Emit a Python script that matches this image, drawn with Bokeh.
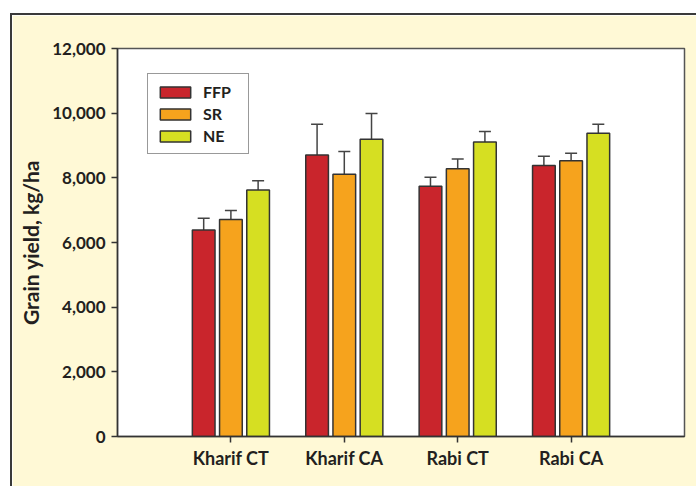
from bokeh.plotting import figure
from bokeh.models import (ColumnDataSource, FactorRange, Range1d, Whisker, TeeHead,
                          NumeralTickFormatter, FixedTicker, Legend, LegendItem)
from bokeh.transform import dodge
from bokeh.embed import file_html
from bokeh.resources import INLINE

categories = ["Kharif CT", "Kharif CA", "Rabi CT", "Rabi CA"]
series = ["FFP", "SR", "NE"]
ffp = [6390, 8710, 7740, 8380]
sr = [6710, 8110, 8280, 8530]
ne = [7620, 9190, 9110, 9380]
ffp_err = [360, 950, 280, 290]
sr_err = [280, 705, 300, 230]
ne_err = [290, 800, 320, 280]
y_ticks = [0, 2000, 4000, 6000, 8000, 10000, 12000]

colors = ["#C9252C", "#F6A31D", "#D6DF22"]
offsets = [-0.24, 0.0, 0.24]
values = [ffp, sr, ne]
errs = [ffp_err, sr_err, ne_err]

FONT = "Lato"
TXT = "#231F20"
BG = "#FFF9D6"

p = figure(x_range=FactorRange(factors=categories, range_padding=0.25),
           y_range=Range1d(0, 12000),
           width=686, height=473, output_backend="svg", toolbar_location=None,
           min_border_left=105, min_border_right=14, min_border_top=33, min_border_bottom=52)
p.styles = {"margin-left": "10px", "margin-top": "13px",
            "border-left": "2px solid #3a3a3a", "border-top": "2px solid #3a3a3a"}
p.border_fill_color = BG
p.background_fill_color = "white"
p.outline_line_color = "#555555"
p.outline_line_width = 1.5
p.grid.visible = False

items = []
for name, vals, er, col, off in zip(series, values, errs, colors, offsets):
    src = ColumnDataSource(dict(cat=categories, val=vals,
                                top=[v + e for v, e in zip(vals, er)]))
    r = p.vbar(x=dodge("cat", off, range=p.x_range), top="val", width=0.2, bottom=0,
               source=src, fill_color=col, line_color="#333333", line_width=1.5)
    w = Whisker(base=dodge("cat", off, range=p.x_range), lower="val", upper="top",
                source=src, dimension="height", line_color="#444444", line_width=1.5,
                upper_head=TeeHead(size=12, line_color="#444444", line_width=1.5),
                lower_head=None, level="underlay")
    p.add_layout(w)
    items.append(LegendItem(label=name, renderers=[r]))

legend = Legend(items=items, location=(30, 282), orientation="vertical",
                glyph_width=38, glyph_height=14, label_height=18, spacing=3,
                padding=8, label_standoff=9, label_width=37,
                label_text_font=FONT, label_text_font_style="bold",
                label_text_font_size="16px", label_text_color=TXT,
                border_line_color="#333333", border_line_width=1.5,
                background_fill_color="white", background_fill_alpha=1, margin=0)
p.add_layout(legend, "center")

p.yaxis.ticker = FixedTicker(ticks=y_ticks)
p.yaxis.formatter = NumeralTickFormatter(format="0,0")
p.yaxis.axis_label = "Grain yield, kg/ha"
p.yaxis.axis_label_text_font = FONT
p.yaxis.axis_label_text_font_style = "bold"
p.yaxis.axis_label_text_font_size = "21px"
p.yaxis.axis_label_text_color = TXT
p.yaxis.axis_label_standoff = 6
p.axis.major_label_text_font = FONT
p.axis.major_label_text_font_style = "bold"
p.axis.major_label_text_color = TXT
p.yaxis.major_label_text_font_size = "17px"
p.xaxis.major_label_text_font_size = "18px"
p.axis.axis_line_color = "#333333"
p.axis.axis_line_width = 1.5
p.axis.major_tick_line_color = "#333333"
p.axis.major_tick_line_width = 1.5
p.axis.major_tick_out = 6
p.axis.major_tick_in = 0
p.axis.minor_tick_line_color = None
p.yaxis.major_label_standoff = 6
p.xaxis.major_label_standoff = 4

open("out.html", "w").write(file_html(p, INLINE))
